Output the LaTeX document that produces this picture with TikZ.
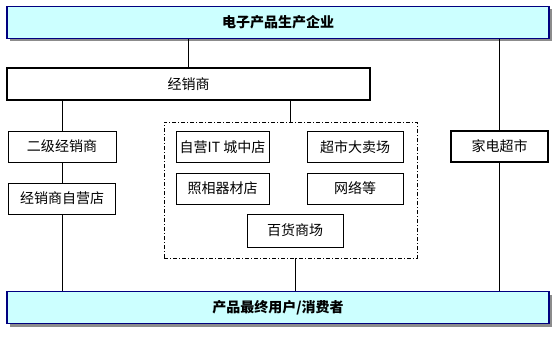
\documentclass[tikz,border=0pt]{standalone}
\usepackage{fontspec}
\setmainfont{Noto Sans CJK SC}
\usetikzlibrary{shadows}
\usepackage{xcolor}
\definecolor{bandFill}{HTML}{CCFFFF}
\definecolor{bandLine}{HTML}{000080}

\begin{document}
\begin{tikzpicture}[x=1pt, y=-1pt,
        band/.style={draw=bandLine, line width=1.6pt, fill=bandFill, minimum width=542pt, minimum height=32pt,
            drop shadow={shadow xshift=3pt, shadow yshift=-3pt, fill=gray!90, opacity=1},
            font=\fontsize{14}{16}\selectfont\bfseries},
        shopbox/.style={draw, line width=0.8pt, minimum height=31pt, font=\fontsize{14}{16}\selectfont},
        bigbox/.style={shopbox, line width=1.6pt}]
        \useasboundingbox (0,0) rectangle (559,337);
        \node[band] (maker) at (278,22.5) {电子产品生产企业};
        \node[band] (buyer) at (278,307.5) {产品最终用户/消费者};
        \node[bigbox, minimum width=363pt, minimum height=32pt] (dealer) at (188.5,84) {经销商};
        \node[shopbox, minimum width=108pt] (subdealer) at (62,146.5) {二级经销商};
        \node[shopbox, minimum width=107pt] (ownshop) at (62,198.5) {经销商自营店};
        \node[draw, dash pattern=on 4pt off 2pt on 1pt off 2pt, minimum width=253pt, minimum height=136pt] (retail) at (290.5,190) {};
        \node[shopbox, minimum width=93pt] (itshop) at (222.5,147) {自营IT 城中店};
        \node[shopbox, minimum width=93pt] (photo) at (222.5,188.5) {照相器材店};
        \node[shopbox, minimum width=96pt] (market) at (355,147) {超市大卖场};
        \node[shopbox, minimum width=96pt] (online) at (355,188.5) {网络等};
        \node[shopbox, minimum width=96pt, minimum height=33pt] (mall) at (295,230.5) {百货商场};
        \node[bigbox, minimum width=97pt] (appliance) at (499.5,146.5) {家电超市};

        \draw[line width=0.8pt] (maker.south -| dealer) -- (dealer);
        \draw[line width=0.8pt] (maker.south -| appliance) -- (appliance) -- (appliance |- buyer.north);
        \draw[line width=0.8pt] (dealer.south -| subdealer) -- (subdealer) -- (ownshop) -- (ownshop |- buyer.north);
        \draw[line width=0.8pt] (dealer.south -| retail) -- (retail.north);
        \draw[line width=0.8pt] (retail.south -| mall) -- (mall |- buyer.north);
    \end{tikzpicture}
\end{document}
